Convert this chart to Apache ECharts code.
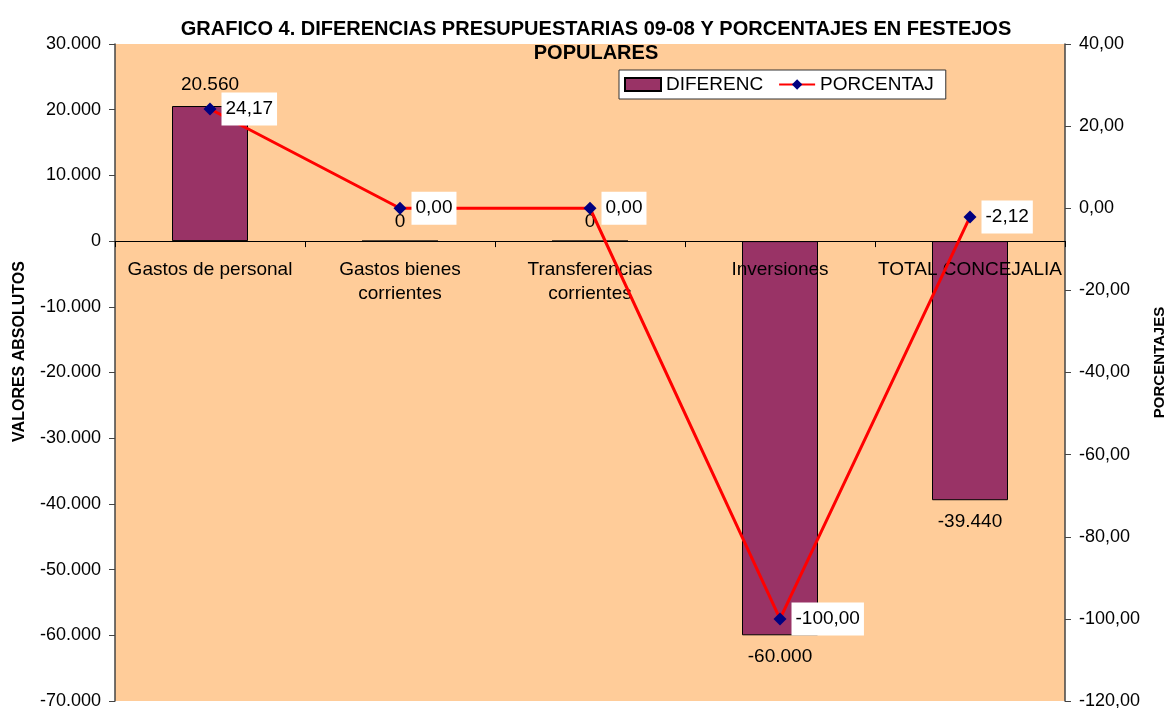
<!DOCTYPE html>
<html>
<head>
<meta charset="utf-8">
<title>Grafico 4</title>
<script src="https://cdn.jsdelivr.net/npm/echarts@6/dist/echarts.min.js"></script>
<style>
  html, body { margin: 0; padding: 0; background: #fff; }
  #chart { width: 1167px; height: 708px; }
</style>
</head>
<body>
<div id="chart"></div>
<script>
// datos del grafico
var categorias = ['Gastos de personal', 'Gastos bienes\ncorrientes', 'Transferencias\ncorrientes', 'Inversiones', 'TOTAL CONCEJALIA'];
var diferencias = [20560, 0, 0, -60000, -39440];
var porcentajes = [24.17, 0, 0, -100, -2.12];

// 20560 -> "20.560"
function fmtMiles(v) {
  var s = Math.abs(Math.round(v)).toString().replace(/\B(?=(\d{3})+(?!\d))/g, '.');
  return (v < 0 ? '-' : '') + s;
}
function fmtPct(v) {
  return v.toFixed(2).replace('.', ',');
}

var fuente = 'Liberation Sans, Arial, sans-serif';
var chart = echarts.init(document.getElementById('chart'));

var barData = diferencias.map(function (v) {
  return {
    value: v,
    label: { position: v < 0 ? 'bottom' : 'top', distance: v === 0 ? 9 : 12 }
  };
});

var option = {
  animation: false,
  textStyle: { fontFamily: fuente },
  title: {
    text: 'GRAFICO 4. DIFERENCIAS PRESUPUESTARIAS 09-08 Y PORCENTAJES EN FESTEJOS\nPOPULARES',
    left: 591,
    textAlign: 'center',
    top: 12,
    textStyle: { fontFamily: fuente, fontSize: 20, fontWeight: 'bold', color: '#000', lineHeight: 24 }
  },
  legend: {
    left: 619,
    top: 70,
    backgroundColor: '#fff',
    borderColor: '#333',
    borderWidth: 1,
    padding: [5, 12, 5, 5],
    itemGap: 15,
    itemWidth: 36,
    itemHeight: 13,
    textStyle: { fontFamily: fuente, fontSize: 19, color: '#000' },
    data: [{ name: 'DIFERENC', icon: 'rect' }, { name: 'PORCENTAJ' }]
  },
  grid: {
    left: 115,
    right: 102,
    top: 44,
    bottom: 7,
    outerBoundsMode: 'none',
    show: true,
    backgroundColor: '#FFCC99',
    borderWidth: 0
  },
  xAxis: {
    type: 'category',
    data: categorias,
    z: 2,
    axisLine: { onZero: true, lineStyle: { color: '#000', width: 1 } },
    axisTick: { show: true, length: 6, lineStyle: { color: '#000' } },
    axisLabel: {
      color: '#000',
      fontSize: 19,
      lineHeight: 24,
      // las etiquetas se quedan abajo del grid, se suben junto a la linea del cero
      margin: -443,
      interval: 0,
      fontFamily: fuente
    }
  },
  yAxis: [
    {
      type: 'value',
      min: -70000,
      max: 30000,
      interval: 10000,
      name: 'VALORES ABSOLUTOS',
      nameLocation: 'middle',
      nameRotate: 90,
      nameGap: 87,
      nameTextStyle: { fontFamily: fuente, fontSize: 16, fontWeight: 'bold', color: '#000', padding: [0, 0, 0, 42] },
      axisLine: { show: true, lineStyle: { color: '#444', width: 1.5 } },
      axisTick: { show: true, length: 6, lineStyle: { color: '#444' } },
      axisLabel: { color: '#000', fontSize: 18, margin: 14, formatter: fmtMiles },
      splitLine: { show: false }
    },
    {
      type: 'value',
      min: -120,
      max: 40,
      interval: 20,
      name: 'PORCENTAJES',
      nameLocation: 'middle',
      nameRotate: 90,
      nameGap: 87,
      nameTextStyle: { fontFamily: fuente, fontSize: 15, fontWeight: 'bold', color: '#000', padding: [0, 0, 0, 20] },
      axisLine: { show: true, lineStyle: { color: '#444', width: 1.5 } },
      axisTick: { show: true, length: 6, lineStyle: { color: '#444' } },
      axisLabel: { color: '#000', fontSize: 18, margin: 14, formatter: fmtPct },
      splitLine: { show: false }
    }
  ],
  series: [
    {
      name: 'DIFERENC',
      type: 'bar',
      yAxisIndex: 0,
      z: 1,
      barWidth: '40%',
      data: barData,
      itemStyle: { color: '#993366', borderColor: '#000', borderWidth: 1 },
      label: {
        show: true,
        distance: 12,
        color: '#000',
        fontSize: 19,
        fontFamily: fuente,
        formatter: function (p) { return fmtMiles(p.value); }
      }
    },
    {
      name: 'PORCENTAJ',
      type: 'line',
      yAxisIndex: 1,
      z: 3,
      data: porcentajes,
      symbol: 'diamond',
      symbolSize: 13,
      lineStyle: { color: '#FF0000', width: 3 },
      itemStyle: { color: '#000080' },
      label: {
        show: true,
        position: 'right',
        distance: 5,
        color: '#000',
        fontSize: 19,
        fontFamily: fuente,
        backgroundColor: '#fff',
        padding: [7, 4, 7, 4],
        formatter: function (p) { return fmtPct(p.value); }
      }
    }
  ]
};

chart.setOption(option);
</script>
</body>
</html>
